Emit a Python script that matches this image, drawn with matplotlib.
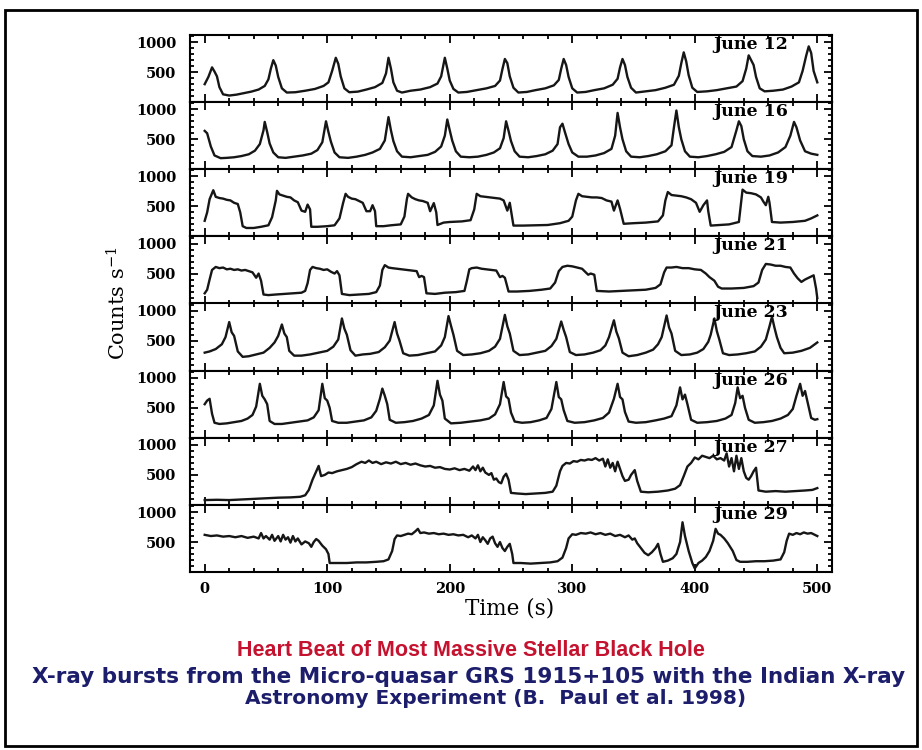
import matplotlib.pyplot as plt
from matplotlib.patches import Rectangle
from matplotlib.ticker import MultipleLocator

# light curves of GRS 1915+105, (time s, counts/s) read per observing day
jun12 = [(0, 300), (3, 420), (6, 580), (8, 510), (10, 430), (12, 250), (15, 130), (20, 110), (26, 125),
         (32, 150), (38, 175), (44, 210), (49, 270), (52, 380), (54, 560), (56, 700), (58, 610), (60, 420),
         (63, 230), (67, 160), (74, 165), (82, 190), (90, 220), (97, 270), (101, 330), (104, 520), (107, 740),
         (109, 640), (111, 430), (114, 230), (118, 165), (125, 175), (132, 210), (139, 250), (145, 320),
         (148, 480), (150, 740), (152, 560), (154, 330), (157, 190), (161, 160), (168, 190), (176, 210),
         (184, 250), (190, 310), (193, 430), (196, 740), (198, 560), (200, 360), (203, 220), (207, 160),
         (214, 170), (222, 200), (230, 230), (237, 270), (241, 360), (243, 550), (245, 720), (247, 650),
         (249, 430), (252, 240), (256, 160), (263, 170), (270, 200), (278, 230), (285, 280), (289, 370),
         (291, 560), (293, 720), (295, 620), (297, 420), (300, 230), (304, 160), (311, 170), (318, 200),
         (326, 230), (333, 290), (337, 390), (339, 580), (341, 720), (343, 620), (345, 420), (348, 240),
         (352, 160), (360, 180), (368, 200), (376, 240), (383, 290), (387, 440), (389, 650), (391, 830),
         (393, 680), (395, 450), (398, 240), (402, 170), (410, 180), (418, 200), (426, 230), (434, 260),
         (439, 350), (442, 560), (444, 780), (446, 700), (448, 620), (450, 420), (453, 230), (457, 180),
         (464, 190), (472, 210), (479, 260), (485, 330), (488, 520), (491, 780), (493, 930), (495, 820),
         (497, 520), (500, 330)]

jun16 = [(0, 640), (2, 600), (5, 380), (8, 230), (13, 185), (18, 190), (24, 200), (30, 220), (36, 250),
         (41, 310), (45, 420), (48, 650), (49, 790), (51, 620), (53, 430), (56, 280), (60, 200), (66, 190),
         (73, 210), (80, 230), (87, 260), (92, 320), (96, 450), (99, 800), (101, 620), (103, 460), (106, 280),
         (110, 200), (117, 190), (124, 210), (131, 240), (137, 280), (143, 340), (147, 480), (150, 870),
         (152, 650), (154, 470), (157, 300), (161, 210), (168, 200), (175, 220), (182, 240), (188, 290),
         (193, 380), (196, 560), (198, 830), (200, 650), (202, 480), (205, 300), (209, 210), (216, 200),
         (223, 210), (230, 240), (236, 280), (241, 350), (244, 520), (246, 800), (248, 640), (250, 470),
         (253, 300), (257, 210), (264, 200), (271, 220), (278, 250), (284, 310), (288, 420), (290, 700),
         (292, 760), (294, 620), (297, 420), (300, 280), (305, 210), (312, 210), (319, 230), (326, 270),
         (332, 340), (335, 560), (337, 940), (339, 700), (341, 500), (344, 300), (348, 210), (355, 200),
         (362, 220), (369, 250), (376, 300), (381, 400), (383, 700), (385, 980), (387, 700), (389, 500),
         (392, 300), (396, 210), (403, 200), (410, 220), (417, 250), (424, 290), (430, 370), (434, 650),
         (436, 800), (438, 720), (440, 500), (443, 300), (447, 220), (454, 210), (461, 230), (468, 280),
         (474, 370), (478, 560), (481, 790), (483, 700), (486, 480), (490, 300), (495, 260), (500, 240)]

jun19 = [(0, 260), (2, 400), (4, 620), (7, 770), (9, 660), (12, 640), (15, 630), (18, 610), (21, 600),
         (24, 560), (27, 540), (29, 400), (31, 170), (34, 140), (40, 140), (46, 160), (52, 185), (55, 320),
         (58, 600), (59, 760), (61, 700), (64, 680), (67, 660), (70, 650), (73, 600), (76, 570), (79, 430),
         (82, 410), (84, 530), (86, 450), (87, 160), (92, 160), (100, 170), (106, 185), (110, 300), (113, 560),
         (115, 710), (117, 660), (120, 630), (123, 620), (126, 590), (129, 560), (132, 420), (135, 420),
         (137, 520), (139, 420), (140, 170), (146, 170), (152, 185), (160, 200), (163, 330), (165, 620),
         (166, 710), (169, 650), (172, 620), (175, 600), (178, 590), (182, 560), (184, 420), (187, 555),
         (189, 400), (190, 190), (195, 230), (200, 240), (210, 250), (217, 270), (220, 450), (222, 710),
         (225, 670), (229, 660), (233, 650), (237, 640), (241, 630), (244, 600), (247, 430), (249, 560),
         (251, 300), (252, 180), (260, 180), (270, 185), (280, 190), (290, 220), (297, 260), (300, 330),
         (303, 600), (305, 710), (308, 670), (312, 660), (316, 650), (320, 650), (324, 640), (328, 600),
         (332, 580), (334, 430), (337, 600), (339, 460), (342, 210), (350, 220), (360, 230), (370, 250),
         (374, 350), (376, 600), (378, 740), (381, 690), (385, 680), (389, 670), (393, 650), (397, 620),
         (401, 560), (404, 410), (407, 520), (410, 600), (411, 420), (413, 180), (420, 190), (428, 200),
         (436, 240), (438, 600), (439, 780), (442, 730), (446, 720), (450, 700), (454, 650), (456, 580),
         (458, 520), (460, 660), (461, 560), (463, 240), (470, 230), (480, 240), (490, 260), (495, 300),
         (500, 350)]

jun21 = [(0, 170), (2, 230), (4, 400), (6, 560), (9, 610), (12, 590), (15, 600), (18, 570), (21, 580),
         (24, 560), (27, 570), (30, 550), (33, 560), (36, 540), (39, 520), (42, 430), (44, 500), (46, 380),
         (48, 150), (52, 140), (58, 150), (65, 160), (72, 170), (79, 180), (82, 210), (84, 340), (86, 560),
         (88, 610), (91, 590), (94, 580), (97, 560), (100, 570), (103, 530), (106, 500), (108, 540),
         (110, 470), (112, 160), (118, 140), (126, 150), (134, 160), (140, 190), (143, 300), (145, 560),
         (147, 640), (150, 600), (153, 590), (157, 580), (161, 570), (165, 560), (169, 550), (173, 540),
         (175, 440), (177, 460), (179, 440), (181, 170), (188, 160), (196, 180), (205, 190), (212, 210),
         (214, 380), (216, 570), (218, 590), (222, 600), (226, 580), (230, 570), (234, 560), (238, 550),
         (241, 440), (243, 460), (245, 430), (248, 200), (255, 200), (265, 210), (275, 230), (282, 250),
         (286, 350), (289, 540), (292, 610), (296, 630), (300, 620), (304, 600), (308, 580), (311, 520),
         (313, 480), (315, 500), (318, 480), (320, 210), (330, 200), (340, 210), (350, 220), (360, 230),
         (368, 260), (372, 320), (375, 520), (377, 600), (381, 600), (385, 610), (390, 590), (395, 590),
         (400, 570), (405, 560), (409, 500), (412, 440), (416, 380), (419, 280), (422, 250), (430, 250),
         (440, 260), (448, 290), (452, 350), (455, 560), (458, 660), (462, 650), (466, 630), (470, 630),
         (474, 610), (478, 600), (481, 500), (484, 420), (487, 360), (490, 400), (494, 440), (497, 470),
         (499, 250), (500, 90)]

jun23 = [(0, 300), (4, 320), (9, 360), (14, 440), (17, 560), (20, 810), (22, 640), (24, 580), (27, 320),
         (31, 230), (36, 240), (42, 270), (48, 300), (53, 380), (57, 470), (60, 580), (63, 770), (65, 620),
         (67, 560), (69, 330), (73, 250), (79, 250), (86, 270), (93, 300), (100, 330), (105, 400), (109, 520),
         (112, 870), (114, 700), (116, 600), (119, 340), (123, 250), (129, 270), (135, 280), (142, 310),
         (147, 390), (151, 500), (155, 810), (157, 620), (159, 500), (162, 290), (167, 250), (174, 260),
         (181, 290), (188, 320), (193, 420), (196, 560), (199, 910), (201, 750), (203, 600), (206, 330),
         (211, 260), (218, 270), (225, 290), (232, 330), (237, 400), (241, 530), (245, 930), (247, 740),
         (249, 620), (252, 330), (257, 260), (264, 270), (271, 300), (278, 330), (283, 410), (287, 530),
         (291, 820), (293, 680), (295, 560), (298, 310), (303, 260), (310, 270), (317, 300), (323, 340),
         (327, 420), (330, 560), (334, 840), (336, 650), (338, 540), (341, 300), (346, 240), (353, 260),
         (360, 300), (366, 350), (370, 440), (373, 560), (377, 920), (379, 720), (381, 620), (384, 330),
         (389, 260), (396, 270), (402, 300), (407, 360), (411, 480), (413, 600), (416, 870), (418, 660),
         (420, 520), (423, 290), (428, 260), (435, 270), (442, 290), (449, 320), (454, 400), (458, 520),
         (461, 740), (463, 900), (465, 720), (467, 560), (470, 380), (473, 290), (480, 300), (487, 330),
         (494, 380), (500, 470)]

jun26 = [(0, 560), (2, 620), (4, 650), (6, 400), (8, 250), (12, 230), (18, 240), (24, 260), (30, 280),
         (35, 320), (39, 380), (42, 520), (45, 900), (47, 700), (49, 640), (51, 560), (53, 280), (57, 230),
         (63, 230), (70, 250), (77, 270), (84, 290), (89, 340), (93, 460), (96, 900), (98, 660), (100, 620),
         (102, 500), (104, 280), (109, 250), (116, 250), (123, 270), (130, 290), (136, 340), (140, 450),
         (143, 650), (145, 820), (147, 700), (149, 560), (151, 300), (156, 250), (163, 260), (170, 280),
         (177, 320), (183, 380), (187, 540), (190, 950), (192, 720), (194, 620), (196, 320), (201, 240),
         (209, 250), (217, 270), (225, 290), (232, 320), (237, 390), (241, 560), (244, 930), (246, 690),
         (248, 650), (250, 420), (253, 270), (259, 250), (266, 260), (273, 290), (279, 330), (283, 480),
         (287, 930), (289, 680), (291, 640), (293, 460), (296, 280), (302, 250), (310, 260), (318, 290),
         (325, 330), (330, 420), (334, 650), (337, 900), (339, 680), (341, 640), (343, 430), (346, 270),
         (352, 250), (360, 260), (368, 290), (375, 320), (381, 360), (385, 540), (388, 840), (390, 640),
         (392, 720), (394, 560), (397, 300), (402, 250), (410, 260), (418, 280), (425, 320), (430, 380),
         (433, 580), (435, 840), (437, 660), (439, 700), (441, 500), (444, 300), (449, 250), (456, 260),
         (463, 280), (470, 320), (476, 380), (480, 480), (483, 700), (486, 900), (488, 700), (490, 780),
         (492, 600), (495, 330), (498, 300), (500, 310)]

jun27 = [(0, 80), (10, 85), (20, 80), (30, 90), (40, 100), (50, 110), (60, 120), (70, 125), (78, 135),
         (82, 160), (85, 250), (88, 420), (91, 560), (93, 650), (95, 480), (98, 500), (101, 540), (104, 530),
         (108, 560), (112, 580), (116, 600), (120, 630), (124, 680), (128, 720), (131, 700), (134, 740),
         (137, 700), (140, 720), (144, 680), (148, 710), (152, 690), (156, 720), (160, 680), (164, 700),
         (168, 670), (172, 690), (176, 660), (180, 640), (184, 650), (188, 620), (192, 630), (196, 600),
         (200, 590), (204, 610), (208, 580), (212, 600), (216, 570), (219, 640), (221, 580), (223, 660),
         (225, 560), (227, 620), (229, 540), (232, 500), (234, 530), (236, 420), (238, 440), (240, 380),
         (242, 360), (244, 470), (246, 520), (248, 420), (250, 200), (255, 190), (262, 180), (270, 190),
         (278, 200), (284, 220), (287, 320), (290, 560), (292, 650), (295, 700), (298, 690), (301, 730),
         (304, 720), (307, 750), (310, 740), (313, 760), (316, 750), (319, 780), (322, 740), (325, 770),
         (327, 640), (329, 760), (331, 620), (333, 700), (335, 560), (337, 720), (339, 600), (341, 480),
         (343, 400), (346, 420), (348, 500), (351, 580), (353, 400), (356, 220), (362, 210), (370, 220),
         (378, 240), (384, 270), (388, 330), (391, 480), (394, 640), (397, 700), (400, 790), (403, 760),
         (406, 820), (409, 800), (412, 780), (415, 820), (418, 760), (421, 780), (424, 740), (426, 860),
         (428, 640), (430, 780), (432, 560), (434, 820), (436, 600), (438, 780), (440, 560), (442, 450),
         (444, 420), (446, 480), (448, 560), (450, 620), (452, 240), (458, 220), (466, 230), (474, 220),
         (482, 230), (490, 240), (496, 250), (500, 280)]

jun29 = [(0, 620), (5, 600), (10, 610), (15, 590), (20, 600), (25, 580), (30, 600), (35, 570), (40, 590),
         (44, 560), (46, 650), (48, 560), (50, 600), (53, 540), (55, 620), (57, 520), (60, 600), (62, 510),
         (64, 620), (66, 540), (68, 580), (70, 490), (72, 600), (74, 510), (76, 560), (79, 460), (82, 510),
         (85, 480), (87, 420), (89, 500), (91, 550), (93, 520), (96, 440), (99, 380), (101, 300), (102, 150),
         (108, 150), (116, 150), (124, 160), (132, 160), (140, 170), (146, 180), (150, 210), (153, 350),
         (155, 550), (157, 610), (160, 600), (163, 620), (166, 640), (169, 630), (172, 680), (174, 720),
         (176, 650), (179, 660), (183, 640), (187, 650), (191, 630), (195, 640), (199, 620), (203, 630),
         (207, 610), (211, 620), (215, 580), (218, 610), (221, 560), (223, 620), (225, 500), (227, 580),
         (229, 530), (231, 470), (233, 560), (235, 590), (237, 480), (239, 420), (241, 500), (243, 400),
         (245, 350), (247, 420), (249, 470), (251, 300), (252, 150), (258, 150), (266, 140), (274, 150),
         (282, 160), (288, 180), (292, 240), (295, 400), (297, 560), (300, 630), (303, 620), (307, 650),
         (311, 640), (315, 660), (319, 630), (323, 650), (327, 620), (331, 640), (335, 600), (339, 620),
         (343, 580), (346, 610), (349, 540), (351, 560), (353, 480), (356, 400), (359, 320), (362, 280),
         (365, 330), (368, 400), (370, 470), (372, 300), (374, 170), (378, 190), (382, 230), (385, 300),
         (388, 500), (390, 830), (392, 600), (395, 350), (398, 150), (400, 60), (403, 150), (406, 190),
         (409, 250), (412, 350), (415, 520), (417, 720), (419, 640), (421, 620), (424, 560), (427, 480),
         (431, 350), (434, 200), (437, 170), (443, 170), (450, 180), (457, 180), (464, 190), (470, 210),
         (473, 330), (475, 520), (477, 640), (480, 620), (483, 650), (486, 630), (489, 660), (492, 640),
         (495, 650), (498, 620), (500, 600)]

days = ['June 12', 'June 16', 'June 19', 'June 21', 'June 23', 'June 26', 'June 27', 'June 29']
curves = [jun12, jun16, jun19, jun21, jun23, jun26, jun27, jun29]

plt.rcParams['font.family'] = 'DejaVu Serif'
plt.rcParams['mathtext.fontset'] = 'dejavuserif'

fig = plt.figure(figsize=(9.22, 7.5), dpi=100)

left, right = 190 / 922, 832 / 922
top, bottom = 1 - 35 / 750, 1 - 572 / 750
h = (top - bottom) / len(days)

for i, (day, pts) in enumerate(zip(days, curves)):
    ax = fig.add_axes([left, top - (i + 1) * h, right - left, h])
    t = [p[0] for p in pts]
    c = [p[1] for p in pts]
    ax.plot(t, c, color='#161616', lw=1.7)
    ax.set_xlim(-12, 512)
    ax.set_ylim(0, 1120)
    ax.xaxis.set_major_locator(MultipleLocator(100))
    ax.xaxis.set_minor_locator(MultipleLocator(20))
    ax.yaxis.set_major_locator(MultipleLocator(500))
    ax.yaxis.set_minor_locator(MultipleLocator(100))
    ax.tick_params(which='both', direction='in', top=True, right=True, width=1.3)
    ax.tick_params(which='major', length=6)
    ax.tick_params(which='minor', length=3)
    ax.tick_params(axis='y', pad=10, labelsize=10.5)
    ax.tick_params(axis='x', pad=7, labelsize=10.5)
    ax.set_yticks([500, 1000])
    ax.set_yticklabels(['500', '1000'], fontweight='bold')
    if i < len(days) - 1:
        ax.set_xticklabels([])
    else:
        for lab in ax.get_xticklabels():
            lab.set_fontweight('bold')
    for s in ax.spines.values():
        s.set_linewidth(1.5)
    ax.text(0.874, 0.86, day, transform=ax.transAxes, ha='center', va='center',
            fontsize=12.5, fontweight='bold')

fig.text(510 / 922, 1 - 609 / 750, 'Time (s)', ha='center', va='center', fontsize=15.5)
fig.text(118 / 922, 1 - 303 / 750, r'Counts s$^{-1}$', ha='center', va='center',
         rotation=90, fontsize=15)

fig.text(471 / 922, 1 - 651 / 750, 'Heart Beat of Most Massive Stellar Black Hole',
         ha='center', va='center', color='#c4122f', fontsize=15.5,
         fontweight='bold', family='Liberation Sans')
fig.text(469 / 922, 1 - 677 / 750,
         'X-ray bursts from the Micro-quasar GRS 1915+105 with the Indian X-ray',
         ha='center', va='center', color='#1c1d6b', fontsize=15.5,
         fontweight='bold', family='DejaVu Sans')
fig.text(496 / 922, 1 - 699 / 750, 'Astronomy Experiment (B.  Paul et al. 1998)',
         ha='center', va='center', color='#1c1d6b', fontsize=14.5,
         fontweight='bold', family='DejaVu Sans')

# border around the whole slide
fig.patches.append(Rectangle((5 / 922, 1 - 746 / 750), 912 / 922, 736 / 750,
                             transform=fig.transFigure, fill=False, lw=2.0,
                             edgecolor='black'))

fig.savefig('out.png', dpi=100)
